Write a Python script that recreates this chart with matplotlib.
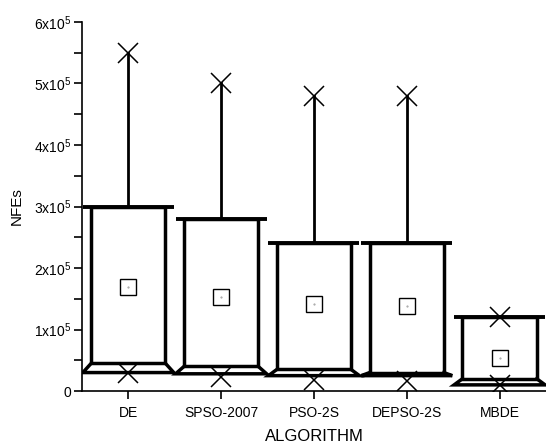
import matplotlib
matplotlib.use('Agg')
import matplotlib.pyplot as plt
from matplotlib.patches import Rectangle
from matplotlib.ticker import FuncFormatter, MultipleLocator
import numpy as np

plt.rcParams['font.family'] = ['Liberation Sans', 'DejaVu Sans']
plt.rcParams['mathtext.fontset'] = 'custom'
plt.rcParams['mathtext.rm'] = 'Liberation Sans'

algos = ['DE', 'SPSO-2007', 'PSO-2S', 'DEPSO-2S', 'MBDE']
q3 = [3.0e5, 2.8e5, 2.4e5, 2.4e5, 1.2e5]       # box top
q1 = [4.5e4, 4.0e4, 3.5e4, 3.0e4, 2.0e4]       # box bottom
low = [3.0e4, 2.8e4, 2.5e4, 2.5e4, 1.0e4]      # lower whisker
maxs = [5.5e5, 5.0e5, 4.8e5, 4.8e5, 1.2e5]
mins = [3.0e4, 2.2e4, 1.8e4, 1.6e4, 1.0e4]
means = [1.69e5, 1.53e5, 1.41e5, 1.38e5, 0.54e5]

fig = plt.figure(figsize=(5.46, 4.45), dpi=100, facecolor='w')
ax = fig.add_axes([0.150, 0.1213, 0.85, 0.8293])

hw_box = 0.40
hw_cap = 0.49
lw = 2.5
for i in range(len(algos)):
    x = i + 1
    # whisker up to max
    ax.plot([x, x], [q3[i], maxs[i]], color='k', lw=2.0, zorder=2)
    # box
    ax.add_patch(Rectangle((x - hw_box, q1[i]), 2 * hw_box, q3[i] - q1[i],
                           facecolor='none', edgecolor='k', lw=lw, zorder=3))
    # wide cap at box top
    ax.plot([x - hw_cap, x + hw_cap], [q3[i], q3[i]], color='k', lw=2.8,
            solid_capstyle='butt', zorder=4)
    # bottom trapezoid
    ax.plot([x - hw_box, x - hw_cap, x + hw_cap, x + hw_box],
            [q1[i], low[i], low[i], q1[i]], color='k', lw=lw,
            solid_joinstyle='miter', zorder=3)

ax.plot(range(1, 6), maxs, 'x', color='k', ms=14, mew=1.1, zorder=5)
ax.plot(range(1, 6), mins, 'x', color='k', ms=14, mew=1.1, zorder=5)
ax.plot(range(1, 6), means, 's', mfc='w', mec='k', ms=11, mew=1.0, zorder=5)
ax.plot(range(1, 6), means, '.', color='0.6', ms=1, zorder=6)

ax.set_xlim(0.5, 5.5)
ax.set_ylim(0, 6e5)
ax.set_xticks(range(1, 6))
ax.set_xticklabels(algos, fontsize=10)
ax.yaxis.set_major_locator(MultipleLocator(1e5))
ax.yaxis.set_minor_locator(MultipleLocator(0.5e5))


def fmt(v, pos):
    n = int(round(v / 1e5))
    if n == 0:
        return '0'
    return r'%dx10$^{5}$' % n


ax.yaxis.set_major_formatter(FuncFormatter(fmt))
ax.tick_params(axis='y', which='both', direction='out', length=6, width=1.2,
               labelsize=10, pad=2)
ax.tick_params(axis='x', direction='out', length=6, width=1.2, labelsize=10, pad=5)
for s in ['top', 'right']:
    ax.spines[s].set_visible(False)
for s in ['left', 'bottom']:
    ax.spines[s].set_linewidth(1.2)

ax.set_xlabel('ALGORITHM', fontsize=12, labelpad=6)
ax.set_ylabel('NFEs', fontsize=11, labelpad=7)

fig.savefig('out.png', dpi=100)
